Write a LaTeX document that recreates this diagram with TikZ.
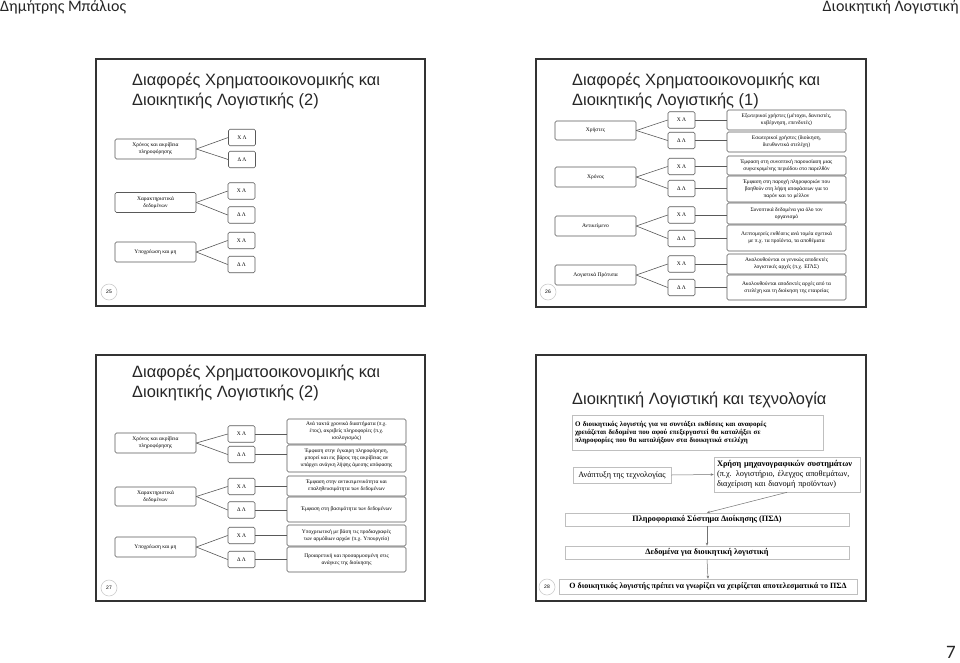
\documentclass[tikz,border=0pt]{standalone}
\usepackage{fontspec}
\setmainfont{Liberation Serif}
\newfontfamily\ttlf{Liberation Sans}
\newfontfamily\hdrf{Carlito}
\usetikzlibrary{arrows.meta}
\begin{document}
\begin{tikzpicture}[x=1pt,y=-1pt,
 frm/.style={draw=black!80, line width=1.3pt},
 bx/.style={draw=black!65, rounded corners=1.5pt, line width=0.6pt, align=center, inner sep=0.5pt, font=\fontsize{5.5}{6.9}\selectfont},
 lb/.style={bx, minimum width=81pt, minimum height=20pt},
 xb/.style={bx, minimum width=27pt, minimum height=16.5pt},
 rb/.style={bx, minimum width=119pt},
 cn/.style={draw=black!65, line width=0.6pt},
 num/.style={circle, draw=black!20, line width=0.6pt, minimum size=16pt, inner sep=0pt, font=\ttlf\fontsize{5}{6}\selectfont},
 ttl/.style={anchor=base west, font=\ttlf\fontsize{16.4}{19}\selectfont, text=black!85, inner sep=0pt},
 wb/.style={draw=black!25, line width=0.6pt, inner sep=1pt, font=\bfseries\fontsize{7}{8}\selectfont},
 arr/.style={draw=black!55, line width=0.5pt, -{Stealth[length=3pt,width=2.5pt]}},
 hdr/.style={inner sep=0pt, font=\hdrf\fontsize{16}{19}\selectfont, text=black!85}]
\useasboundingbox[fill=white] (0,0) rectangle (960,662);

% header and page number
\node[hdr, anchor=north west] (h1) at (0,0.5) {Δημήτρης Μπάλιος};
\node[hdr, anchor=north east] (h2) at (959,0.5) {Διοικητική Λογιστική};
\node[hdr, anchor=south east, font=\hdrf\fontsize{19}{22}\selectfont] (pg) at (956,659) {7};

% frames
\draw[frm] (96,59) rectangle (425,306);
\draw[frm] (536,59) rectangle (866,307);
\draw[frm] (96,355) rectangle (425,601);
\draw[frm] (536,355) rectangle (866,601);

% ---------- slide 25 ----------
\node[ttl] (t25a) at (132,85) {Διαφορές Χρηματοοικονομικής και};
\node[ttl] (t25b) at (132,105) {Διοικητικής Λογιστικής (2)};
\node[lb] (a1) at (155.5,149) {Χρόνος και ακρίβεια\\πληροφόρησης};
\node[xb] (a1x) at (242,137.5) {Χ Λ};
\node[xb] (a1d) at (242,159.5) {Δ Λ};
\node[lb] (a2) at (155.5,202.5) {Χαρακτηριστικά\\δεδομένων};
\node[xb] (a2x) at (241.5,191) {Χ Λ};
\node[xb] (a2d) at (241.5,215) {Δ Λ};
\node[lb] (a3) at (155.5,252) {Υποχρέωση και μη};
\node[xb] (a3x) at (241.5,240.5) {Χ Λ};
\node[xb] (a3d) at (241.5,264.5) {Δ Λ};
\node[num] (n25) at (109,292) {25};
\draw[cn] (a1.east) -- (a1x.west);
\draw[cn] (a1.east) -- (a1d.west);
\draw[cn] (a2.east) -- (a2x.west);
\draw[cn] (a2.east) -- (a2d.west);
\draw[cn] (a3.east) -- (a3x.west);
\draw[cn] (a3.east) -- (a3d.west);

% ---------- slide 26 ----------
\node[ttl] (t26a) at (572,85) {Διαφορές Χρηματοοικονομικής και};
\node[ttl] (t26b) at (572,105) {Διοικητικής Λογιστικής (1)};
\node[lb, minimum height=19pt] (b1) at (595.5,130.5) {Χρήστες};
\node[xb] (b1x) at (681.5,120) {Χ Λ};
\node[xb] (b1d) at (681.5,140.5) {Δ Λ};
\node[rb, minimum height=20pt] (r1) at (786.5,120) {Εξωτερικοί χρήστες (μέτοχοι, δανειστές,\\κυβέρνηση, επενδυτές)};
\node[rb, minimum height=20pt] (r2) at (786.5,142) {Εσωτερικοί χρήστες (διοίκηση,\\διευθυντικά στελέχη)};
\node[lb] (b2) at (595.5,177) {Χρόνος};
\node[xb] (b2x) at (681.5,166.5) {Χ Λ};
\node[xb] (b2d) at (681.5,188.5) {Δ Λ};
\node[rb, minimum height=19pt] (r3) at (786.5,165.5) {Έμφαση στη συνοπτική παρουσίαση μιας\\συγκεκριμένης περιόδου στο παρελθόν};
\node[rb, minimum height=26pt] (r4) at (786.5,189) {Έμφαση στη παροχή πληροφοριών που\\βοηθούν στη λήψη αποφάσεων για το\\παρόν και το μέλλον};
\node[lb] (b3) at (595.5,226) {Αντικείμενο};
\node[xb] (b3x) at (681.5,215) {Χ Λ};
\node[xb] (b3d) at (681.5,238.5) {Δ Λ};
\node[rb, minimum height=21pt] (r5) at (786.5,213.5) {Συνοπτικά δεδομένα για όλο τον\\οργανισμό};
\node[rb, minimum height=26pt] (r6) at (786.5,238) {Λεπτομερείς εκθέσεις ανά τομέα σχετικά\\με π.χ. τα προϊόντα, τα αποθέματα};
\node[lb] (b4) at (595.5,275) {Λογιστικά Πρότυπα};
\node[xb] (b4x) at (681.5,264) {Χ Λ};
\node[xb] (b4d) at (681.5,287.5) {Δ Λ};
\node[rb, minimum height=20pt] (r7) at (786.5,264) {Ακολουθούνται οι γενικώς αποδεκτές\\λογιστικές αρχές (π.χ. ΕΓΛΣ)};
\node[rb, minimum height=25pt] (r8) at (786.5,287.5) {Ακολουθούνται αποδεκτές αρχές από τα\\στελέχη και τη διοίκηση της εταιρείας};
\node[num] (n26) at (548,292) {26};
\foreach \k in {1,2,3,4}{
  \draw[cn] (b\k.east) -- (b\k x.west);
  \draw[cn] (b\k.east) -- (b\k d.west);
}
\draw[cn] (b1x.east) -- (b1x.east -| r1.west);
\draw[cn] (b1d.east) -- (b1d.east -| r2.west);
\draw[cn] (b2x.east) -- (b2x.east -| r3.west);
\draw[cn] (b2d.east) -- (b2d.east -| r4.west);
\draw[cn] (b3x.east) -- (b3x.east -| r5.west);
\draw[cn] (b3d.east) -- (b3d.east -| r6.west);
\draw[cn] (b4x.east) -- (b4x.east -| r7.west);
\draw[cn] (b4d.east) -- (b4d.east -| r8.west);

% ---------- slide 27 ----------
\node[ttl] (t27a) at (132,377) {Διαφορές Χρηματοοικονομικής και};
\node[ttl] (t27b) at (132,397) {Διοικητικής Λογιστικής (2)};
\node[lb] (c1) at (155.5,443) {Χρόνος και ακρίβεια\\πληροφόρησης};
\node[xb] (c1x) at (241.5,434) {Χ Λ};
\node[xb] (c1d) at (241.5,454.5) {Δ Λ};
\node[rb, minimum height=25pt] (s1) at (346.5,431.5) {Ανά τακτά χρονικά διαστήματα (π.χ.\\έτος), ακριβείς πληροφορίες (π.χ.\\ισολογισμός)};
\node[rb, minimum height=27pt] (s2) at (346.5,458.5) {Έμφαση στην έγκαιρη πληροφόρηση,\\μπορεί και εις βάρος της ακρίβειας αν\\υπάρχει ανάγκη λήψης άμεσης απόφασης};
\node[lb, minimum height=19pt] (c2) at (155.5,496.5) {Χαρακτηριστικά\\δεδομένων};
\node[xb] (c2x) at (241.5,486.5) {Χ Λ};
\node[xb] (c2d) at (241.5,510) {Δ Λ};
\node[rb, minimum height=20pt] (s3) at (346.5,486) {Έμφαση στην αντικειμενικότητα και\\επαληθευσιμότητα των δεδομένων};
\node[rb, minimum height=25pt] (s4) at (346.5,509.5) {Έμφαση στη βασιμότητα των δεδομένων};
\node[lb] (c3) at (155.5,547) {Υποχρέωση και μη};
\node[xb] (c3x) at (241.5,535.5) {Χ Λ};
\node[xb] (c3d) at (241.5,559.5) {Δ Λ};
\node[rb, minimum height=21pt] (s5) at (346.5,535.5) {Υποχρεωτική με βάση τις προδιαγραφές\\των αρμόδιων αρχών (π.χ. Υπουργείο)};
\node[rb, minimum height=25pt] (s6) at (346.5,559.5) {Προαιρετική και προσαρμοσμένη στις\\ανάγκες της διοίκησης};
\node[num] (n27) at (109,588) {27};
\foreach \k in {1,2,3}{
  \draw[cn] (c\k.east) -- (c\k x.west);
  \draw[cn] (c\k.east) -- (c\k d.west);
}
\draw[cn] (c1x.east) -- (c1x.east -| s1.west);
\draw[cn] (c1d.east) -- (c1d.east -| s2.west);
\draw[cn] (c2x.east) -- (c2x.east -| s3.west);
\draw[cn] (c2d.east) -- (c2d.east -| s4.west);
\draw[cn] (c3x.east) -- (c3x.east -| s5.west);
\draw[cn] (c3d.east) -- (c3d.east -| s6.west);

% ---------- slide 28 ----------
\node[ttl] (t28) at (572,404) {Διοικητική Λογιστική και τεχνολογία};
\node[wb, text width=245pt, minimum height=35pt, align=left, inner xsep=3pt] (d1) at (697.5,432.5)
  {Ο διοικητικός λογιστής για να συντάξει εκθέσεις και αναφορές\\χρειάζεται δεδομένα που αφού επεξεργαστεί θα καταλήξει σε\\πληροφορίες που θα καταλήξουν στα διοικητικά στελέχη};
\node[wb, font=\fontsize{8.2}{9}\selectfont, minimum width=98pt, minimum height=16pt] (d2) at (622,475) {Ανάπτυξη της τεχνολογίας};
\node[wb, font=\fontsize{8.3}{10}\selectfont, text width=140pt, minimum height=35pt, align=left, inner xsep=3pt] (d3) at (787,474.5)
  {\textbf{Χρήση μηχανογραφικών συστημάτων}\\(π.χ. λογιστήριο, έλεγχος αποθεμάτων,\\διαχείριση και διανομή προϊόντων)};
\node[wb, font=\bfseries\fontsize{8.2}{9}\selectfont, minimum width=284pt, minimum height=13pt] (d4) at (707,519.5) {Πληροφοριακό Σύστημα Διοίκησης (ΠΣΔ)};
\node[wb, font=\bfseries\fontsize{8.2}{9}\selectfont, minimum width=284pt, minimum height=13pt] (d5) at (707,552.5) {Δεδομένα για διοικητική λογιστική};
\node[wb, font=\bfseries\fontsize{8}{9}\selectfont, minimum width=298pt, minimum height=15pt] (d6) at (708,586.5) {Ο διοικητικός λογιστής πρέπει να γνωρίζει να χειρίζεται αποτελεσματικά το ΠΣΔ};
\node[num] (n28) at (547,587) {28};
\draw[arr] (d2.east) -- (d3.west);
\draw[arr] (d3.south) -- (d4.north);
\draw[arr] (d4.south) -- (d5.north);
\draw[arr] (d5.south) -- (d6.north);
\end{tikzpicture}
\end{document}
